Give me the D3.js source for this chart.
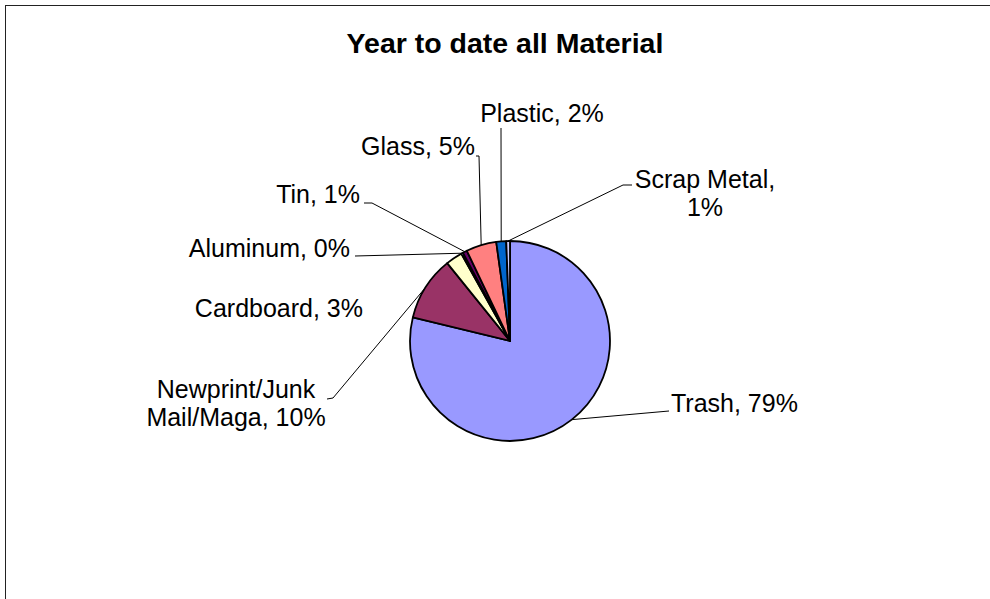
<!DOCTYPE html>
<html>
<head>
<meta charset="utf-8">
<script src="https://cdn.jsdelivr.net/npm/d3@7"></script>
<style>
  body { margin: 0; background: #fff; }
  svg { display: block; }
  text { font-family: "Liberation Sans", Arial, sans-serif; fill: #000; }
</style>
</head>
<body>
<div class="chartDiv"></div>
<script>
// values (percent of year to date total)
var categories = ["Trash", "Newprint/Junk Mail/Maga", "Cardboard", "Aluminum", "Tin", "Glass", "Plastic", "Scrap Metal"];
var values = [78.8, 10.4, 2.7, 0.3, 0.7, 4.9, 1.6, 0.6];
var colors = ["#9999FF", "#993366", "#FFFFCC", "#CCFFFF", "#660066", "#FF8080", "#0066CC", "#CCCCFF"];
var title = "Year to date all Material";

// where each label sits, and the elbow of its leader line
var labelLayout = [
  { x: 671, y: 412, anchor: "start", lines: 1, leader: [[669, 411]] },
  { x: 236, y: 398, anchor: "middle", lines: 2, split: "Newprint/Junk", leader: [[327, 399], [333, 398]] },
  { x: 363, y: 317, anchor: "end", lines: 1, leader: null },
  { x: 350, y: 257, anchor: "end", lines: 1, leader: [[355, 256]] },
  { x: 360, y: 203, anchor: "end", lines: 1, leader: [[364, 203], [372, 203]] },
  { x: 475, y: 155, anchor: "end", lines: 1, leader: [[476, 156], [479, 156]] },
  { x: 542, y: 122, anchor: "middle", lines: 1, leader: [[501, 128]] },
  { x: 705, y: 188, anchor: "middle", lines: 2, split: "Scrap Metal,", leader: [[632, 185], [623, 185]] }
];

var width = 990, height = 599;
var cx = 510, cy = 341, radius = 100;

var svg = d3.select(".chartDiv").append("svg")
  .attr("width", width)
  .attr("height", height)

// chart area border (cut off at right and bottom)
svg.append("rect")
  .attr("x", 5.5)
  .attr("y", 5.5)
  .attr("width", 1000)
  .attr("height", 1000)
  .attr("fill", "none")
  .attr("stroke", "#222")
  .attr("stroke-width", 1)

svg.append("text")
  .attr("x", 505)
  .attr("y", 53)
  .attr("text-anchor", "middle")
  .style("font-size", "28.5px")
  .style("font-weight", "bold")
  .text(title)

var total = d3.sum(values);
var data = categories.map(function(c, i) {
  return { name: c, value: values[i], color: colors[i], layout: labelLayout[i] };
});

var pie = d3.pie()
  .sort(null)
  .value(function(d) { return d.value; })

var arc = d3.arc()
  .innerRadius(0)
  .outerRadius(radius)

var edgeArc = d3.arc()
  .innerRadius(radius)
  .outerRadius(radius)

var arcs = pie(data);

var g = svg.append("g")
  .attr("transform", "translate(" + cx + "," + cy + ")")

// leader lines go under the slices
var line = d3.line();
g.selectAll(".leader")
  .data(arcs.filter(function(d) { return d.data.layout.leader; }))
  .enter().append("path")
  .attr("class", "leader")
  .attr("fill", "none")
  .attr("stroke", "#000")
  .attr("stroke-width", 1)
  .attr("d", function(d) {
    var pts = d.data.layout.leader.map(function(p) { return [p[0] - cx, p[1] - cy]; });
    pts.push(edgeArc.centroid(d));
    return line(pts);
  })

g.selectAll(".slice")
  .data(arcs)
  .enter().append("path")
  .attr("class", "slice")
  .attr("d", arc)
  .attr("fill", function(d) { return d.data.color; })
  .attr("stroke", "#000")
  .attr("stroke-width", 1.8)
  .attr("stroke-linejoin", "round")

function labelText(d) {
  var pct = Math.round(d.value / total * 100) + "%";
  return d.name + ", " + pct;
}

var labels = svg.selectAll(".pieLabel")
  .data(data)
  .enter().append("text")
  .attr("class", "pieLabel")
  .attr("x", function(d) { return d.layout.x; })
  .attr("y", function(d) { return d.layout.y; })
  .attr("text-anchor", function(d) { return d.layout.anchor; })
  .style("font-size", "25px")

labels.each(function(d) {
  var t = labelText(d);
  var el = d3.select(this);
  if (d.layout.lines == 1) {
    el.text(t);
  } else {
    var first = d.layout.split;
    var rest = t.slice(first.length).trim();
    el.append("tspan").attr("x", d.layout.x).text(first);
    el.append("tspan").attr("x", d.layout.x).attr("dy", 27.5).text(rest);
  }
})
</script>
</body>
</html>
